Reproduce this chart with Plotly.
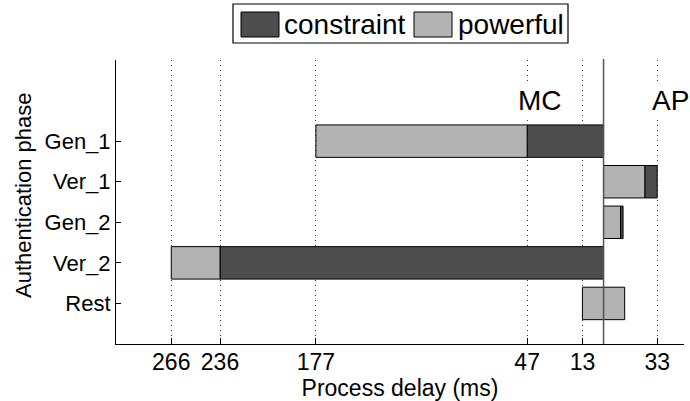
import plotly.graph_objects as go

# ---- data ----
phases = ["Gen_1", "Ver_1", "Gen_2", "Ver_2", "Rest"]
# MC side (plotted to the left), stacked outward from 0
mc_constraint = [47, None, None, 236, None]
mc_powerful = [130, None, None, 30, 13]
# AP side (plotted to the right), stacked outward from 0
ap_powerful = [None, 25.5, 10.5, None, 13]
ap_constraint = [None, 7.5, 1.5, None, None]

tick_vals = [-266, -236, -177, -47, -13, 0, 33]
tick_text = ["266", "236", "177", "47", "13", "", "33"]

DARK = "#4d4d4d"
LIGHT = "#b3b3b3"
FONT = "Liberation Sans"

W, H = 690, 401
L, R, T, B = 116, 6, 60, 57
PW, PH = W - L - R, H - T - B


def px(x):
    return (x - L) / PW


def py(y):
    return (H - B - y) / PH


def neg(vals):
    return [None if v is None else -v for v in vals]


fig = go.Figure()
line = dict(color="black", width=1)
fig.add_trace(go.Bar(y=phases, x=neg(mc_constraint), orientation="h", name="constraint",
                     marker=dict(color=DARK, line=line), width=0.8, showlegend=False))
fig.add_trace(go.Bar(y=phases, x=neg(mc_powerful), orientation="h", name="powerful",
                     marker=dict(color=LIGHT, line=line), width=0.8, showlegend=False))
fig.add_trace(go.Bar(y=phases, x=ap_powerful, orientation="h", name="powerful",
                     marker=dict(color=LIGHT, line=line), width=0.8, showlegend=False))
fig.add_trace(go.Bar(y=phases, x=ap_constraint, orientation="h", name="constraint",
                     marker=dict(color=DARK, line=line), width=0.8, showlegend=False))

shapes = []
# center divider line
shapes.append(dict(type="line", xref="x", yref="paper", x0=0, x1=0, y0=0, y1=py(59),
                   line=dict(color="#555555", width=1.5), layer="above"))
# custom legend
shapes.append(dict(type="rect", xref="paper", yref="paper", x0=px(233), x1=px(568),
                   y0=py(43), y1=py(4), line=dict(color="black", width=1.2), fillcolor="white"))
shapes.append(dict(type="rect", xref="paper", yref="paper", x0=px(241), x1=px(279),
                   y0=py(37), y1=py(12), line=dict(color="black", width=1), fillcolor=DARK))
shapes.append(dict(type="rect", xref="paper", yref="paper", x0=px(414), x1=px(452),
                   y0=py(37), y1=py(12), line=dict(color="black", width=1), fillcolor=LIGHT))

annotations = [
    dict(text="constraint", xref="paper", yref="paper", x=px(282), y=py(24.5),
         xanchor="left", yanchor="middle", showarrow=False, font=dict(size=28, color="black", family=FONT)),
    dict(text="powerful", xref="paper", yref="paper", x=px(456), y=py(24.5),
         xanchor="left", yanchor="middle", showarrow=False, font=dict(size=28, color="black", family=FONT)),
    dict(text="MC", xref="paper", yref="paper", x=px(540), y=py(100),
         xanchor="center", yanchor="middle", showarrow=False, bgcolor="white",
         font=dict(size=28, color="black", family=FONT)),
    dict(text="AP", xref="paper", yref="paper", x=px(670), y=py(100),
         xanchor="center", yanchor="middle", showarrow=False, bgcolor="white",
         font=dict(size=28, color="black", family=FONT)),
    # y-axis title
    dict(text="Authentication phase", xref="paper", yref="paper", x=px(23), y=py(195),
         xanchor="center", yanchor="middle", textangle=-90, showarrow=False,
         font=dict(size=22, color="black", family=FONT)),
]

fig.update_layout(
    width=W, height=H,
    margin=dict(l=L, r=R, t=T, b=B),
    paper_bgcolor="white", plot_bgcolor="white",
    barmode="relative", bargap=0.2,
    font=dict(family=FONT, size=23, color="black"),
    shapes=shapes, annotations=annotations,
    showlegend=False,
    xaxis=dict(
        range=[-300, 49.5],
        tickmode="array", tickvals=tick_vals, ticktext=tick_text,
        ticks="inside", ticklen=6, tickcolor="black", tickwidth=1,
        showline=True, linecolor="black", linewidth=1, mirror=False,
        showgrid=True, gridcolor="#333333", gridwidth=1, griddash="1px,4px",
        zeroline=False,
        tickfont=dict(size=23),
        ticklabelstandoff=-3,
        title=dict(text="Process delay (ms)", font=dict(size=23), standoff=1),
    ),
    yaxis=dict(
        type="category", categoryorder="array", categoryarray=phases,
        range=[5, -2],
        ticks="inside", ticklen=5, tickcolor="black", tickwidth=1,
        showline=True, linecolor="black", linewidth=1, mirror=False,
        showgrid=False, zeroline=False,
        tickfont=dict(size=22),
        ticklabelstandoff=0,
    ),
)

fig.write_html("out.html")
